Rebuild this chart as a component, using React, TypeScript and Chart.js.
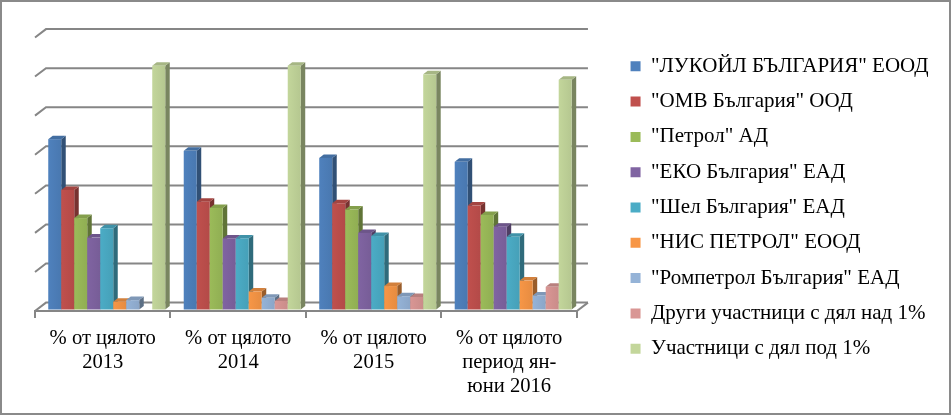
import React, { useEffect, useRef } from "react";
import { Chart, registerables } from "chart.js";

Chart.register(...registerables);

// ---- DATA ----
const categories: string[][] = [
  ["% от цялото", "2013"],
  ["% от цялото", "2014"],
  ["% от цялото", "2015"],
  ["% от цялото", "период ян-", "юни 2016"],
];

const seriesNames = [
  "\"ЛУКОЙЛ БЪЛГАРИЯ\" ЕООД",
  "\"ОМВ България\" ООД",
  "\"Петрол\" АД",
  "\"ЕКО България\" ЕАД",
  "\"Шел България\" ЕАД",
  "\"НИС ПЕТРОЛ\" ЕООД",
  "\"Ромпетрол България\" ЕАД",
  "Други участници с дял над 1%",
  "Участници с дял под 1%",
];

const lukoil = [21.8, 20.3, 19.4, 18.9];
const omv = [15.3, 13.8, 13.6, 13.3];
const petrol = [11.7, 13.0, 12.8, 12.1];
const eko = [9.2, 9.1, 9.8, 10.6];
const shell = [10.4, 9.1, 9.4, 9.3];
const nis = [1.0, 2.3, 3.0, 3.7];
const rompetrol = [1.2, 1.5, 1.7, 1.8];
const othersAbove1 = [0, 1.1, 1.6, 2.9];
const othersBelow1 = [31.2, 31.2, 30.1, 29.4];

const seriesValues = [lukoil, omv, petrol, eko, shell, nis, rompetrol, othersAbove1, othersBelow1];

const colors = [
  "#4F81BD",
  "#C0504D",
  "#9BBB59",
  "#8064A2",
  "#4BACC6",
  "#F79646",
  "#95B3D7",
  "#D99694",
  "#C3D69B",
];

const gridValues = [0, 5, 10, 15, 20, 25, 30, 35];

// ---- 3D look ----
const WALL_DX = 11;
const WALL_DY = 8.4;
const BAR_DX = 4.5;
const BAR_DY = 3.5;
const BAR_SHIFT_X = 4;
const BAR_SHIFT_Y = 1.5;
const GRID_COLOR = "#868686";

function shade(hex: string, f: number): string {
  const n = parseInt(hex.slice(1), 16);
  const r = Math.round(((n >> 16) & 255) * f);
  const g = Math.round(((n >> 8) & 255) * f);
  const b = Math.round((n & 255) * f);
  return `rgb(${Math.min(255, r)},${Math.min(255, g)},${Math.min(255, b)})`;
}

const threeDPlugin = {
  id: "threeD",
  beforeDatasetsDraw(chart: any) {
    const { ctx, chartArea, scales } = chart;
    const yScale = scales.y;
    const L = chartArea.left;
    const R = chartArea.right;
    ctx.save();
    ctx.strokeStyle = GRID_COLOR;
    ctx.lineWidth = 2;
    gridValues.forEach((v) => {
      const py = yScale.getPixelForValue(v);
      ctx.beginPath();
      ctx.moveTo(L, py);
      ctx.lineTo(L + WALL_DX, py - WALL_DY);
      ctx.lineTo(R + WALL_DX, py - WALL_DY);
      ctx.stroke();
    });
    const by = yScale.getPixelForValue(0);
    ctx.beginPath();
    ctx.moveTo(R, by);
    ctx.lineTo(R + WALL_DX, by - WALL_DY);
    ctx.stroke();

    chart.data.datasets.forEach((ds: any, di: number) => {
      const meta = chart.getDatasetMeta(di);
      const c = colors[di];
      meta.data.forEach((el: any, i: number) => {
        const v = ds.data[i];
        if (!v) return;
        const p = el.getProps(["x", "y", "base", "width"], true);
        const x0 = p.x - p.width / 2 + BAR_SHIFT_X;
        const x1 = p.x + p.width / 2 + BAR_SHIFT_X;
        const t = p.y - BAR_SHIFT_Y;
        const b = p.base - BAR_SHIFT_Y;
        // side face
        ctx.fillStyle = shade(c, 0.62);
        ctx.beginPath();
        ctx.moveTo(x1, t);
        ctx.lineTo(x1 + BAR_DX, t - BAR_DY);
        ctx.lineTo(x1 + BAR_DX, b - BAR_DY);
        ctx.lineTo(x1, b);
        ctx.closePath();
        ctx.fill();
        // top face
        ctx.fillStyle = shade(c, 0.85);
        ctx.beginPath();
        ctx.moveTo(x0, t);
        ctx.lineTo(x0 + BAR_DX, t - BAR_DY);
        ctx.lineTo(x1 + BAR_DX, t - BAR_DY);
        ctx.lineTo(x1, t);
        ctx.closePath();
        ctx.fill();
        // front face
        const grad = ctx.createLinearGradient(x0, 0, x1, 0);
        grad.addColorStop(0, shade(c, 1.0));
        grad.addColorStop(1, shade(c, 0.93));
        ctx.fillStyle = grad;
        ctx.fillRect(x0, t, x1 - x0, b - t);
      });
    });
    ctx.restore();
    return false;
  },
};

export default function App() {
  const canvasRef = useRef<HTMLCanvasElement | null>(null);

  useEffect(() => {
    if (!canvasRef.current) return;
    const family = "'Liberation Serif', 'Times New Roman', serif";
    const chart = new Chart(canvasRef.current, {
      type: "bar",
      data: {
        labels: categories,
        datasets: seriesNames.map((name, i) => ({
          label: name,
          data: seriesValues[i],
          backgroundColor: colors[i],
          borderWidth: 0,
          barPercentage: 1,
          categoryPercentage: 0.8635,
        })),
      },
      options: {
        responsive: false,
        animation: false,
        layout: { padding: { left: 0, top: 0, right: 12.5, bottom: 0 } },
        plugins: {
          legend: {
            position: "right",
            align: "center",
            maxWidth: 400,
            labels: {
              boxWidth: 10,
              boxHeight: 10,
              padding: 14.3,
              color: "#000",
              font: { family, size: 21 },
            },
          },
          tooltip: { enabled: false },
        },
        scales: {
          x: {
            grid: {
              display: true,
              drawOnChartArea: false,
              drawTicks: true,
              tickLength: 7,
              color: GRID_COLOR,
              lineWidth: 2,
              offset: true,
            },
            border: { display: true, color: GRID_COLOR, width: 2 },
            ticks: {
              color: "#000",
              font: { family, size: 20.6, lineHeight: 1.165 },
              padding: 9,
              maxRotation: 0,
              autoSkip: false,
            },
            afterFit: (s: any) => {
              s.height = 104;
            },
          },
          y: {
            min: 0,
            max: 39.8,
            display: true,
            ticks: { display: false },
            grid: { display: false },
            border: { display: false },
            afterFit: (s: any) => {
              s.width = 35;
            },
          },
          y2: {
            type: "linear",
            position: "right",
            display: true,
            ticks: { display: false },
            grid: { display: false },
            border: { display: false },
            afterFit: (s: any) => {
              s.width = 39.3;
            },
          },
        },
      },
      plugins: [threeDPlugin],
    } as any);
    return () => chart.destroy();
  }, []);

  return (
    <div style={{ position: "absolute", left: 0, top: 0, width: 951, height: 415, background: "#fff" }}>
      <canvas ref={canvasRef} width={951} height={415} style={{ display: "block" }} />
      <div
        style={{
          position: "absolute",
          left: 0,
          top: 0,
          width: 951,
          height: 415,
          boxSizing: "border-box",
          border: "2px solid #8a8a8a",
          pointerEvents: "none",
        }}
      />
    </div>
  );
}
